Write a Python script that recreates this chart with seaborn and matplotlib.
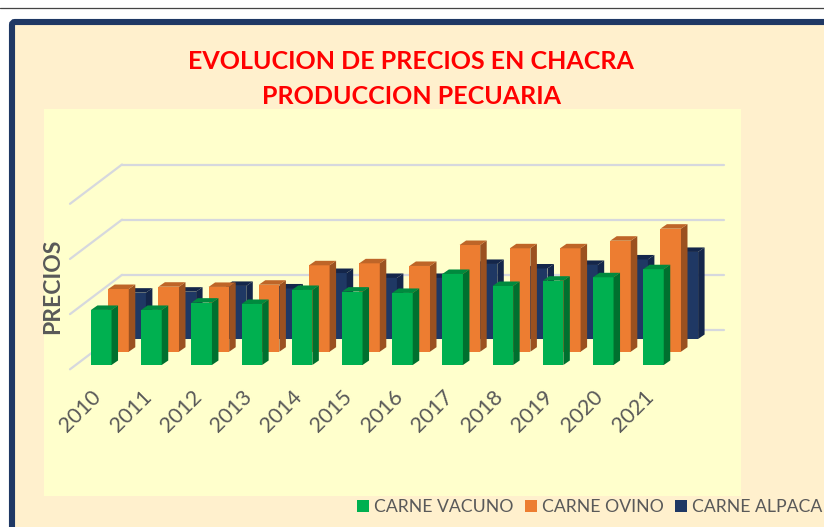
import seaborn as sns
import matplotlib.pyplot as plt
import pandas as pd
from matplotlib.patches import FancyBboxPatch, Rectangle, Polygon, Patch
from matplotlib.transforms import ScaledTranslation

years = ['2010', '2011', '2012', '2013', '2014', '2015', '2016', '2017', '2018', '2019', '2020', '2021']
vacuno = [4.99, 4.99, 5.65, 5.53, 6.80, 6.65, 6.53, 8.25, 7.16, 7.64, 7.95, 8.68]
ovino = [5.68, 5.89, 5.87, 6.07, 7.83, 8.01, 7.77, 9.67, 9.37, 9.37, 10.06, 11.15]
alpaca = [4.20, 4.29, 4.81, 4.58, 5.98, 5.53, 5.53, 6.80, 6.39, 6.71, 7.21, 7.89]
grid_values = [0, 5, 10, 15]
series_names = ['CARNE VACUNO', 'CARNE OVINO', 'CARNE ALPACA']

W, H = 824, 527
GRAY = '#595959'
PLOT_W, PLOT_H = 602.4, 165.5
DEPTH_X, DEPTH_Y = 6.5, 4.5

sns.set_style('white')
plt.rcParams['font.family'] = ['Lato', 'DejaVu Sans']

fig = plt.figure(figsize=(W / 100, H / 100), dpi=100, facecolor='white')


def px_axes(left, base_y):
    # axes placed by pixel position of its left edge and its zero line
    ax = fig.add_axes([left / W, 1 - base_y / H, PLOT_W / W, PLOT_H / H])
    ax.patch.set_alpha(0)
    sns.despine(ax=ax, left=True, bottom=True)
    return ax


def draw_series(ax, values, front, side, top):
    df = pd.DataFrame({'year': years, 'price': values})
    sns.barplot(data=df, x='year', y='price', color=front, saturation=1, width=0.41,
                linewidth=0, edgecolor='none', ax=ax)
    ax.set_xlim(-0.5, 11.5)
    ax.set_ylim(0, grid_values[-1])
    ax.set_xlabel('')
    ax.set_ylabel('')
    ax.set_yticks([])
    dx = DEPTH_X / (PLOT_W / 12)
    dy = DEPTH_Y / (PLOT_H / grid_values[-1])
    for bar in list(ax.patches):
        x0, x1, h = bar.get_x(), bar.get_x() + bar.get_width(), bar.get_height()
        ax.add_patch(Polygon([(x1, 0), (x1, h), (x1 + dx, h + dy), (x1 + dx, dy)],
                             fc=side, ec='none', clip_on=False))
        ax.add_patch(Polygon([(x0, h), (x1, h), (x1 + dx, h + dy), (x0 + dx, h + dy)],
                             fc=top, ec='none', clip_on=False))


# page, frame and plot area
bg = fig.add_axes([0, 0, 1, 1])
bg.set_xlim(0, W)
bg.set_ylim(H, 0)
bg.axis('off')
bg.plot([0, W], [8, 8], color='#444444', lw=0.9)
bg.add_patch(FancyBboxPatch((12, 22), 1000, 700, boxstyle='round,pad=0,rounding_size=3',
                            fc='#FFF0CD', ec='#1F3864', lw=4.4))
bg.add_patch(Rectangle((44, 109), 697, 387, fc='#FFFFCC', ec='none'))

# back wall with gridlines and floor lines
wall = px_axes(122, 330)
wall.set_xlim(0, 1)
wall.set_ylim(0, grid_values[-1])
wall.set_xticks([])
wall.set_yticks(grid_values)
wall.set_yticklabels([])
wall.tick_params(length=0)
wall.grid(axis='y', color='#D6D8DE', lw=1.6)
for gl in wall.get_ygridlines():
    gl.set_clip_on(False)
wall.set_axisbelow(True)
for v in grid_values:
    wall.plot([0, -52 / PLOT_W], [v, v - 39.3 / (PLOT_H / grid_values[-1])],
              color='#D6D8DE', lw=1.6, clip_on=False)

ax_alpaca = px_axes(110.5, 339)
draw_series(ax_alpaca, alpaca, '#1F3864', '#14264A', '#14264A')
ax_alpaca.set_xticklabels([])
ax_alpaca.tick_params(length=0)

ax_ovino = px_axes(93.4, 351.7)
draw_series(ax_ovino, ovino, '#ED7D31', '#9B5120', '#BE6528')
ax_ovino.set_xticklabels([])
ax_ovino.tick_params(length=0)

ax_vacuno = px_axes(76.15, 365)
draw_series(ax_vacuno, vacuno, '#00B050', '#00702F', '#008A3E')
ax_vacuno.tick_params(axis='x', length=0, pad=21, labelsize=15.5, labelcolor=GRAY)
shift = ScaledTranslation(-3 / 100, 0, fig.dpi_scale_trans)
for label in ax_vacuno.get_xticklabels():
    label.set(rotation=45, ha='right', va='center', rotation_mode='anchor')
    label.set_transform(label.get_transform() + shift)

fig.text(53 / W, 1 - 286 / H, 'PRECIOS', rotation=90, ha='center', va='center',
         color=GRAY, fontsize=16.5, fontweight='bold')
fig.suptitle('EVOLUCION DE PRECIOS EN CHACRA\nPRODUCCION PECUARIA', x=411 / W, y=1 - 79 / H,
             va='center', color='#FF0000', fontsize=18, fontweight='bold', linespacing=1.65)

handles = [Patch(fc=c, ec='none') for c in ['#00B050', '#ED7D31', '#1F3864']]
fig.legend(handles, series_names, loc='center left', bbox_to_anchor=(357 / W, 1 - 507 / H),
           ncols=3, frameon=False, fontsize=12.7, labelcolor=GRAY, handlelength=0.68,
           handleheight=0.68, handletextpad=0.3, columnspacing=0.62, borderpad=0, borderaxespad=0)

plt.savefig('out.png', dpi=100)
